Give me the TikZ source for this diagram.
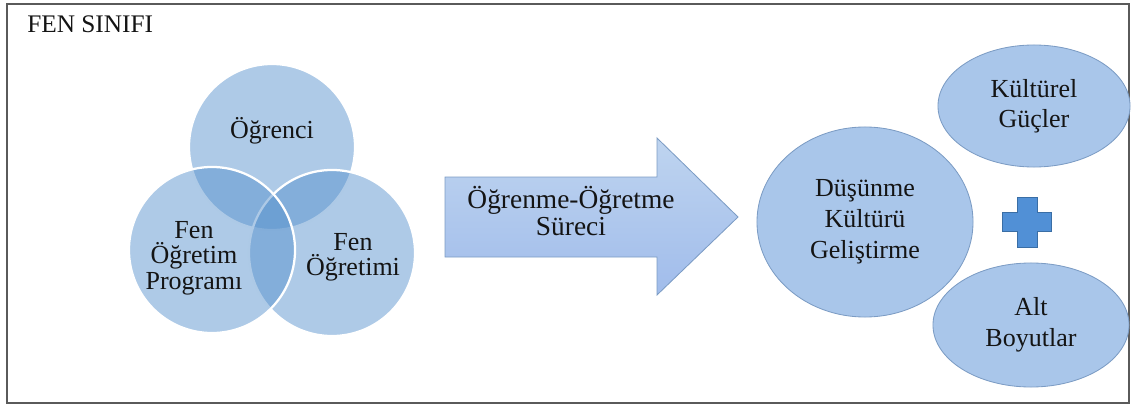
\documentclass[tikz,border=0pt]{standalone}
\usepackage{fontspec}
\setmainfont{Liberation Serif}
\usetikzlibrary{shapes.geometric}
\usetikzlibrary{positioning}
\definecolor{vennblue}{HTML}{5590CC}
\definecolor{ovalfill}{HTML}{A9C6EA}
\definecolor{ovalline}{HTML}{7C9CC4}
\definecolor{plusfill}{HTML}{5190D6}
\definecolor{plusline}{HTML}{3A6EA5}
\definecolor{frameline}{HTML}{5A5A5A}
\definecolor{txt}{HTML}{141414}
\tikzstyle{venn} = [circle, fill=vennblue, fill opacity=0.48, text opacity=1,
draw=white, line width=1.6pt, minimum size=4.15cm, inner sep=0pt]
\tikzstyle{oval} = [ellipse, fill=ovalfill, draw=ovalline, line width=0.6pt,
inner sep=0pt, align=center]
\tikzstyle{caption} = [text=txt, align=center, font=\fontsize{18.5}{18}\selectfont]

\begin{document}
\begin{tikzpicture}[x=0.025cm, y=-0.025cm]
  \useasboundingbox (0,0) rectangle (1132,407);
  \draw[frameline, line width=1pt] (7,4) rectangle (1129,403);
  \node[anchor=base west, text=txt, font=\fontsize{18}{18}\selectfont, inner sep=0pt]
    (title) at (27,33) {FEN SINIFI};

  % venn
  \node[venn] (ogr) at (272,147) {};
  \node[venn] (fo) at (332,253) {};
  \node[venn] (fop) at (212,250) {};
  \node[caption] (togr) at (272,131) {Öğrenci};
  \node[caption] (tfo) at (353,257) {Fen\\Öğretimi};
  \node[caption] (tfop) at (194,258) {Fen\\Öğretim\\Programı};

  % arrow
  \draw[ovalline, line width=0.6pt, top color=ovalfill!75!white, bottom color=ovalfill!95!blue]
    (445,177) -- (657,177) -- (657,138) -- (738,217) -- (657,295) -- (657,257)
    -- (445,257) -- cycle;
  \node[caption, font=\fontsize{19.5}{19.5}\selectfont] (surec) at (571,211)
    {Öğrenme-Öğretme\\Süreci};

  % right side
  \node[oval, minimum width=5.4cm, minimum height=4.75cm, caption,
    font=\fontsize{18.5}{22}\selectfont] (dkg) at (865,222)
    {Düşünme\\Kültürü\\Geliştirme};
  \node[oval, minimum width=4.8cm, minimum height=3.05cm, caption,
    font=\fontsize{18.5}{21}\selectfont] (kg) at (1034,106) {Kültürel\\Güçler};
  \node[oval, minimum width=4.9cm, minimum height=3.1cm, caption,
    font=\fontsize{18.5}{22}\selectfont] (ab) at (1031,325) {Alt\\Boyutlar};

  % plus
  \draw[plusline, fill=plusfill, line width=0.6pt]
    (1017,197) -- (1037,197) -- (1037,212) -- (1051,212) -- (1051,231)
    -- (1037,231) -- (1037,247) -- (1017,247) -- (1017,231) -- (1002,231)
    -- (1002,212) -- (1017,212) -- cycle;
\end{tikzpicture}
\end{document}
